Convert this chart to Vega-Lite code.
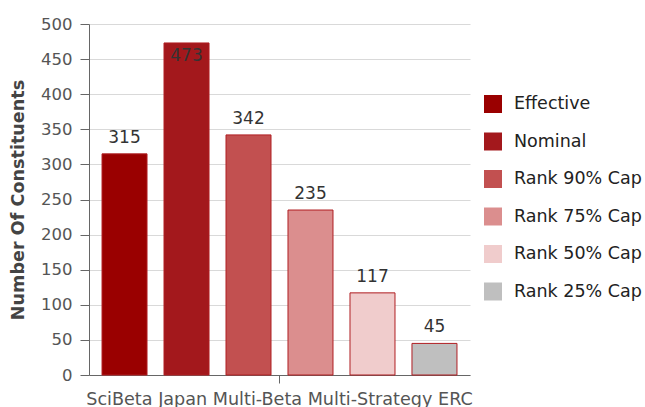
{
  "$schema": "https://vega.github.io/schema/vega-lite/v6.json",
  "width": 381,
  "height": 351,
  "autosize": {"type": "none"},
  "padding": {"left": 89, "top": 24, "right": 175, "bottom": 32},
  "config": {"font": "DejaVu Sans", "view": {"stroke": null}},
  "data": {
    "values": [
      {"category": "SciBeta Japan Multi-Beta Multi-Strategy ERC", "series": "Effective", "value": 315},
      {"category": "SciBeta Japan Multi-Beta Multi-Strategy ERC", "series": "Nominal", "value": 473},
      {"category": "SciBeta Japan Multi-Beta Multi-Strategy ERC", "series": "Rank 90% Cap", "value": 342},
      {"category": "SciBeta Japan Multi-Beta Multi-Strategy ERC", "series": "Rank 75% Cap", "value": 235},
      {"category": "SciBeta Japan Multi-Beta Multi-Strategy ERC", "series": "Rank 50% Cap", "value": 117},
      {"category": "SciBeta Japan Multi-Beta Multi-Strategy ERC", "series": "Rank 25% Cap", "value": 45}
    ]
  },
  "encoding": {
    "x": {
      "field": "category",
      "type": "nominal",
      "scale": {"paddingInner": 0, "paddingOuter": 0},
      "axis": {
        "title": null,
        "labelAngle": 0,
        "labelFontSize": 17.6,
        "labelColor": "#555555",
        "labelLimit": 1000,
        "domainColor": "#666666",
        "tickColor": "#666666",
        "tickSize": 8,
        "labelPadding": 7
      }
    },
    "xOffset": {
      "field": "series",
      "type": "nominal",
      "sort": ["Effective", "Nominal", "Rank 90% Cap", "Rank 75% Cap", "Rank 50% Cap", "Rank 25% Cap"],
      "scale": {"paddingInner": 0.274, "paddingOuter": 0.21}
    },
    "y": {
      "field": "value",
      "type": "quantitative",
      "scale": {"domain": [0, 500]},
      "axis": {
        "title": "Number Of Constituents",
        "titleFontSize": 17.6,
        "titleFontWeight": "bold",
        "titleColor": "#444444",
        "titlePadding": 13,
        "values": [0, 50, 100, 150, 200, 250, 300, 350, 400, 450, 500],
        "labelFontSize": 16.5,
        "labelColor": "#555555",
        "labelPadding": 8,
        "tickSize": 9,
        "tickColor": "#666666",
        "domainColor": "#666666",
        "gridColor": "#d9d9d9",
        "grid": true
      }
    }
  },
  "layer": [
    {
      "mark": {"type": "bar", "stroke": "#b01e22", "strokeWidth": 1},
      "encoding": {
        "color": {
          "field": "series",
          "type": "nominal",
          "sort": ["Effective", "Nominal", "Rank 90% Cap", "Rank 75% Cap", "Rank 50% Cap", "Rank 25% Cap"],
          "scale": {
            "domain": ["Effective", "Nominal", "Rank 90% Cap", "Rank 75% Cap", "Rank 50% Cap", "Rank 25% Cap"],
            "range": ["#9a0000", "#a3181c", "#c25050", "#db8e8e", "#f0cccc", "#bfbfbf"]
          },
          "legend": {
            "title": null,
            "orient": "none",
            "legendX": 395,
            "legendY": 71,
            "symbolType": "square",
            "symbolSize": 324,
            "symbolStrokeWidth": 0,
            "symbolOpacity": 1,
            "labelFontSize": 17.5,
            "labelColor": "#222222",
            "labelOffset": 12,
            "rowPadding": 19.5,
            "padding": 0
          }
        }
      }
    },
    {
      "transform": [{"filter": "datum.value < 450"}],
      "mark": {"type": "text", "baseline": "bottom", "dy": -7, "fontSize": 17, "fill": "#333333"},
      "encoding": {"text": {"field": "value", "type": "quantitative"}}
    },
    {
      "transform": [{"filter": "datum.value >= 450"}],
      "mark": {"type": "text", "baseline": "top", "dy": 5, "fontSize": 17, "fill": "#333333"},
      "encoding": {"text": {"field": "value", "type": "quantitative"}}
    }
  ]
}
